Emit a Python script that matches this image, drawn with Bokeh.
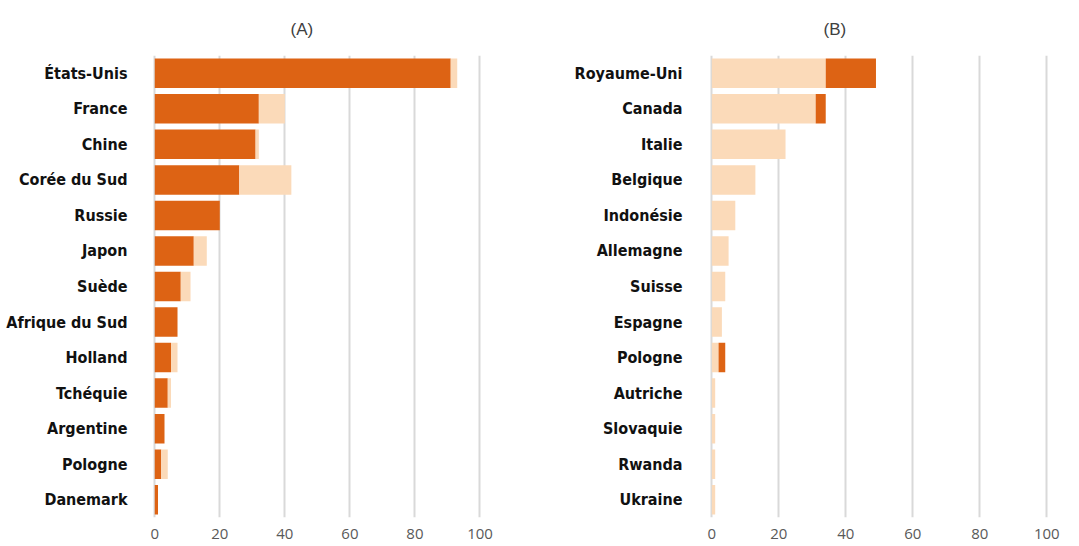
from bokeh.plotting import figure
from bokeh.models import ColumnDataSource, FactorRange, Range1d, FixedTicker
from bokeh.layouts import row
from bokeh.embed import file_html
from bokeh.resources import INLINE

# ---- data ----
left_countries = ["États-Unis", "France", "Chine", "Corée du Sud", "Russie", "Japon", "Suède",
                  "Afrique du Sud", "Holland", "Tchéquie", "Argentine", "Pologne", "Danemark"]
left_dark = [91, 32, 31, 26, 20, 12, 8, 7, 5, 4, 3, 2, 1]
left_light = [2, 8, 1, 16, 0, 4, 3, 0, 2, 1, 0, 2, 0]

right_countries = ["Royaume-Uni", "Canada", "Italie", "Belgique", "Indonésie", "Allemagne", "Suisse",
                   "Espagne", "Pologne", "Autriche", "Slovaquie", "Rwanda", "Ukraine"]
right_light = [34, 31, 22, 13, 7, 5, 4, 3, 2, 1, 1, 1, 1]
right_dark = [15, 3, 0, 0, 0, 0, 0, 0, 2, 0, 0, 0, 0]

x_ticks = [0, 20, 40, 60, 80, 100]
titles = ["(A)", "(B)"]

DARK = "#DD6314"
LIGHT = "#FBDAB9"
GRID = "#D9D9D9"


def make_panel(title, countries, first, second, names, colors, frame_width,
               border_left, border_right, standoff, title_offset):
    src = ColumnDataSource(dict(country=countries, **{names[0]: first, names[1]: second}))
    p = figure(y_range=FactorRange(factors=list(reversed(countries))),
               x_range=Range1d(-1, 102),
               frame_width=frame_width, frame_height=462,
               min_border_left=border_left, min_border_right=border_right,
               min_border_top=55, min_border_bottom=26,
               output_backend="svg", toolbar_location=None, title=title)
    p.hbar_stack(names, y="country", height=0.83, color=colors, line_color=None, source=src)

    p.title.align = "left"
    p.title.offset = title_offset
    p.title.standoff = 33
    p.title.text_font = "Liberation Sans"
    p.title.text_font_style = "normal"
    p.title.text_font_size = "17px"
    p.title.text_color = "#404040"

    p.outline_line_color = None
    p.ygrid.grid_line_color = None
    p.xgrid.grid_line_color = GRID
    p.xgrid.grid_line_width = 2
    p.xaxis.ticker = FixedTicker(ticks=x_ticks)

    for ax in (p.xaxis[0], p.yaxis[0]):
        ax.axis_line_color = None
        ax.major_tick_line_color = None
        ax.minor_tick_line_color = None

    p.xaxis.major_label_text_font = "Open Sans"
    p.xaxis.major_label_text_font_size = "15px"
    p.xaxis.major_label_text_color = "#595959"
    p.xaxis.major_label_standoff = 5

    p.yaxis.major_label_text_font = "DejaVu Sans Condensed"
    p.yaxis.major_label_text_font_style = "bold"
    p.yaxis.major_label_text_font_size = "16px"
    p.yaxis.major_label_text_color = "#111111"
    p.yaxis.major_label_standoff = standoff
    return p


pA = make_panel(titles[0], left_countries, left_dark, left_light, ["dark", "light"], [DARK, LIGHT],
                335, 151, 34, 18, 139)
pB = make_panel(titles[1], right_countries, right_light, right_dark, ["light", "dark"], [LIGHT, DARK],
                345, 188, 10, 20, 115)

layout = row(pA, pB)
open("out.html", "w").write(file_html(layout, INLINE))
